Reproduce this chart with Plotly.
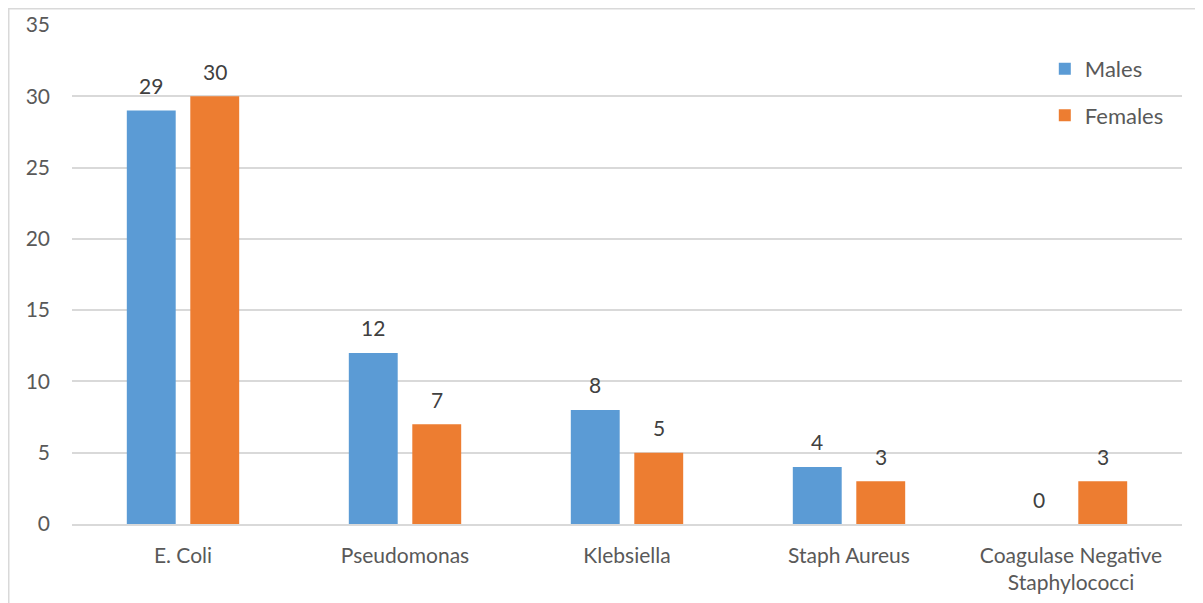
import plotly.graph_objects as go

categories = ["E. Coli", "Pseudomonas", "Klebsiella", "Staph Aureus", "Coagulase Negative<br>Staphylococci"]
males = [29, 12, 8, 4, 0]
females = [30, 7, 5, 3, 3]
y_ticks = [0, 5, 10, 15, 20, 25, 30, 35]

FONT = "Lato, 'Open Sans', sans-serif"
BARGAP = 0.428
BARGROUPGAP = 0.23

fig = go.Figure()
fig.add_trace(go.Bar(name="Males", x=categories, y=males, marker_color="#5B9BD5",
                     marker_line_width=0, legendgroup="m"))
fig.add_trace(go.Bar(name="Females", x=categories, y=females, marker_color="#ED7D31",
                     marker_line_width=0, legendgroup="f"))

# value labels above bars, positioned from the group layout
off = (1 - BARGAP) / 4
for series, sign in ((males, -1), (females, 1)):
    for i, v in enumerate(series):
        fig.add_annotation(x=i + sign * off, y=v, xref="x", yref="y", text=str(v),
                           showarrow=False, yanchor="middle", yshift=25,
                           font=dict(size=21, color="#404040", family=FONT))

fig.update_layout(
    width=1203, height=603,
    margin=dict(l=64, r=29, t=17, b=87, autoexpand=False),
    paper_bgcolor="white", plot_bgcolor="white",
    barmode="group", bargap=BARGAP, bargroupgap=BARGROUPGAP,
    font=dict(family=FONT, size=21, color="#595959"),
    legend=dict(x=0.8764, y=0.954, xanchor="left", yanchor="top",
                font=dict(size=22, color="#595959"), tracegroupgap=15,
                bgcolor="rgba(0,0,0,0)"),
    showlegend=True,
    xaxis=dict(showgrid=False, showline=True, linecolor="#d9d9d9", linewidth=1.5,
               automargin=False,
               ticks="", ticklabelstandoff=12, tickfont=dict(size=21, color="#595959")),
    yaxis=dict(range=[0, 35], tickvals=y_ticks, showgrid=True, gridcolor="#d9d9d9",
               gridwidth=1.5, zeroline=False, showline=False, ticks="", automargin=False,
               ticklabelstandoff=21, tickfont=dict(size=21, color="#595959")),
)

fig.add_shape(type="rect", xref="paper", yref="paper",
              x0=(0.75 - 64) / 1110, x1=1.05, y0=-0.3, y1=(516 - 0.75) / 499,
              line=dict(color="#d9d9d9", width=1.5), fillcolor="rgba(0,0,0,0)", layer="below")

fig.write_html("out.html")
